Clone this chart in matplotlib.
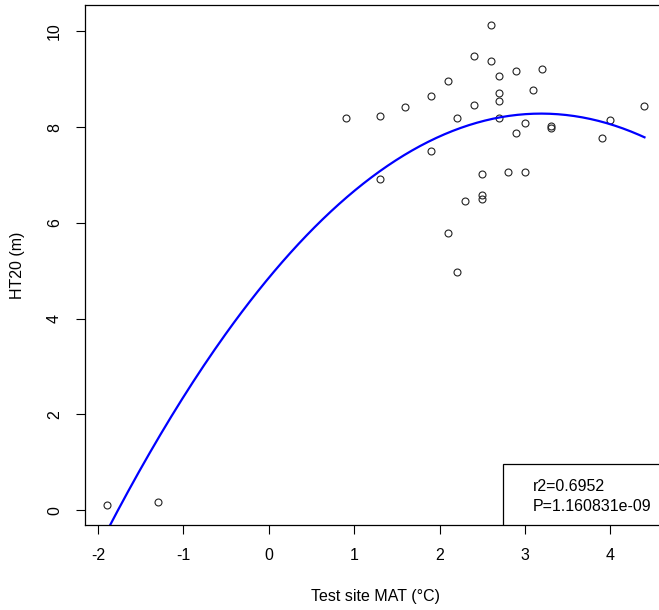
import numpy as np
import matplotlib
matplotlib.use("Agg")
from matplotlib import pyplot as plt
from matplotlib.patches import Rectangle

plt.rcParams['font.family'] = ['Liberation Sans', 'DejaVu Sans']
plt.rcParams['axes.unicode_minus'] = False

# test site mean annual temperature (deg C) and height at age 20 (m)
mat = [-1.9, -1.3, 0.9, 1.3, 1.3, 1.6, 1.9, 1.9, 2.1, 2.1, 2.2, 2.2, 2.3,
       2.4, 2.4, 2.5, 2.5, 2.5, 2.6, 2.6, 2.7, 2.7, 2.7, 2.7, 2.8, 2.9,
       2.9, 3.0, 3.0, 3.1, 3.2, 3.3, 3.3, 3.9, 4.0, 4.4]
ht20 = [0.10, 0.17, 8.18, 8.23, 6.91, 8.43, 8.64, 7.50, 8.97, 5.79, 8.20, 4.97, 6.45,
        9.48, 8.46, 7.02, 6.59, 6.50, 10.14, 9.39, 9.06, 8.71, 8.54, 8.18, 7.06, 9.17,
        7.88, 8.09, 7.06, 8.78, 9.22, 8.03, 7.99, 7.77, 8.14, 8.45]

r2_text = "r2=0.6952"
p_text = "P=1.160831e-09"

x = np.array(mat)
y = np.array(ht20)

# quadratic regression
coef = np.polyfit(x, y, 2)
xs = np.linspace(x.min(), x.max(), 200)
ys = np.polyval(coef, xs)

fig = plt.figure(figsize=(6.59, 6.10), dpi=100)
ax = fig.add_axes([85/659, 85/610, 581/659, 520/610])

ax.plot(x, y, 'o', mfc='none', mec='#222222', ms=5, mew=0.8)
ax.plot(xs, ys, color='#0000ff', lw=1.6)

ax.set_xlim(-2.152, 4.652)
ax.set_ylim(-0.31, 10.55)
ax.set_xticks([-2, -1, 0, 1, 2, 3, 4])
ax.set_yticks([0, 2, 4, 6, 8, 10])
ax.tick_params(axis='both', length=6.5, width=0.8, labelsize=11.5, pad=10)
for lab in ax.get_yticklabels():
    lab.set_rotation(90)
    lab.set_va('center')
for s in ax.spines.values():
    s.set_linewidth(0.9)

ax.set_xlabel("Test site MAT (°C)", fontsize=11.5, labelpad=19)
ax.set_ylabel("HT20 (m)", fontsize=11.5, labelpad=16)

# legend-style box with fit statistics
ax.add_patch(Rectangle((0.7194, 0), 0.3, 0.1173, transform=ax.transAxes,
                       facecolor='white', edgecolor='black', lw=0.9, zorder=5))
ax.text(0.771, 0.0737, r2_text, transform=ax.transAxes, fontsize=11.5,
        va='center', zorder=6)
ax.text(0.771, 0.0352, p_text, transform=ax.transAxes, fontsize=11.5,
        va='center', zorder=6)

fig.savefig("out.png", dpi=100)
